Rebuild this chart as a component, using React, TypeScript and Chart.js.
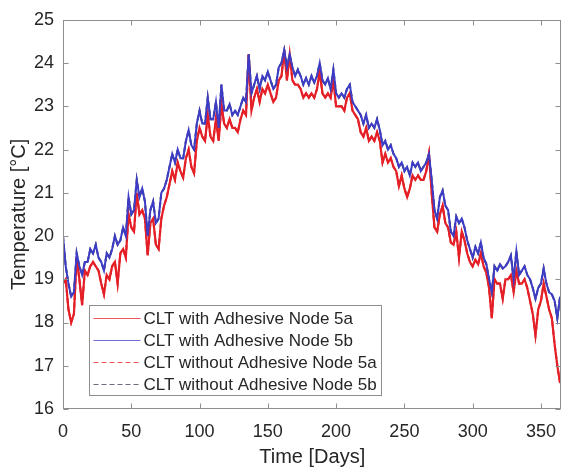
import React, { useEffect, useRef } from 'react';
import { Chart, registerables } from 'chart.js';

Chart.register(...registerables);

// Time in days (sampled every second day)
const days = [
  0, 2, 4, 6, 8, 10, 12, 14, 16, 18,
  20, 22, 24, 26, 28, 30, 32, 34, 36, 38,
  40, 42, 44, 46, 48, 50, 52, 54, 56, 58,
  60, 62, 64, 66, 68, 70, 72, 74, 76, 78,
  80, 82, 84, 86, 88, 90, 92, 94, 96, 98,
  100, 102, 104, 106, 108, 110, 112, 114, 116, 118,
  120, 122, 124, 126, 128, 130, 132, 134, 136, 138,
  140, 142, 144, 146, 148, 150, 152, 154, 156, 158,
  160, 162, 164, 166, 168, 170, 172, 174, 176, 178,
  180, 182, 184, 186, 188, 190, 192, 194, 196, 198,
  200, 202, 204, 206, 208, 210, 212, 214, 216, 218,
  220, 222, 224, 226, 228, 230, 232, 234, 236, 238,
  240, 242, 244, 246, 248, 250, 252, 254, 256, 258,
  260, 262, 264, 266, 268, 270, 272, 274, 276, 278,
  280, 282, 284, 286, 288, 290, 292, 294, 296, 298,
  300, 302, 304, 306, 308, 310, 312, 314, 316, 318,
  320, 322, 324, 326, 328, 330, 332, 334, 336, 338,
  340, 342, 344, 346, 348, 350, 352, 354, 356, 358,
  360, 362, 364,
];

// Node 5a (red)
const node5a = [
  18.9, 19.0, 18.3, 18.0, 18.2, 19.5, 19.0, 18.4, 19.2, 19.1,
  19.3, 19.4, 19.3, 19.2, 18.9, 18.65, 19.1, 19.0, 19.3, 19.4,
  18.9, 19.6, 19.7, 19.5, 20.5, 20.2, 20.1, 21.0, 20.5, 20.6,
  20.4, 19.55, 20.3, 20.4, 19.8, 19.7, 20.4, 20.7, 20.9, 21.2,
  21.5, 21.3, 21.7, 21.5, 21.35, 21.8, 22.0, 21.6, 21.45, 22.2,
  22.5, 22.3, 22.2, 22.8, 22.3, 22.2, 22.7, 22.2, 23.05, 22.6,
  22.5, 22.7, 22.5, 22.5, 22.4, 22.7, 22.9, 22.8, 24.2, 22.9,
  23.2, 23.4, 23.1, 23.4, 23.3, 23.5, 23.3, 23.1, 23.2, 23.6,
  23.7, 24.3, 23.6, 24.2, 23.6, 23.5, 23.5, 23.4, 23.2, 23.3,
  23.2, 23.3, 23.2, 23.4, 23.8, 23.3, 23.2, 23.3, 23.2, 23.6,
  23.0, 23.0, 23.0, 22.9, 23.2, 23.3, 22.9, 22.8, 22.7, 22.4,
  22.3, 22.5, 22.2, 22.3, 22.2, 22.4, 22.2, 21.7, 21.9, 21.7,
  21.8, 21.6, 21.5, 21.15, 21.4, 21.1, 20.9, 21.1, 21.4, 21.3,
  21.4, 21.3, 21.3, 21.5, 21.9, 21.0, 20.2, 20.1, 20.5, 20.7,
  20.3, 20.2, 19.85, 19.8, 20.1, 19.5, 20.1, 19.9, 19.6, 19.4,
  19.3, 19.45, 19.35, 19.6, 19.3, 19.15, 18.8, 18.1, 19.0, 18.9,
  18.9, 18.55, 19.0, 19.0, 19.1, 18.7, 19.2, 18.9, 18.9, 19.0,
  18.8, 18.5, 18.2, 17.7, 18.3, 18.5, 18.9, 18.6, 18.3, 18.1,
  17.5, 17.0, 16.6,
];

// Node 5b (blue)
const node5b = [
  20.0, 19.3, 18.9, 18.6, 18.7, 19.6, 19.3, 19.1, 19.4, 19.4,
  19.7, 19.6, 19.8, 19.5, 19.4, 19.2, 19.6, 19.5, 19.7, 20.0,
  19.8, 19.9, 20.2, 20.0, 20.9, 20.5, 20.6, 21.3, 20.9, 21.1,
  20.8, 20.0, 20.6, 20.8, 20.3, 20.4, 21.0, 21.1, 21.3, 21.6,
  21.9, 21.7, 22.0, 21.8, 21.8, 22.2, 22.45, 22.1, 22.0, 22.6,
  22.9, 22.6, 22.6, 23.2, 22.7, 22.7, 23.1, 22.5, 23.5, 22.9,
  22.9, 23.05, 22.8, 22.9, 22.8, 23.0, 23.2, 23.1, 24.2, 23.3,
  23.5, 23.7, 23.4, 23.7, 23.6, 23.8, 23.6, 23.4, 23.5, 23.9,
  24.0, 24.3, 23.9, 24.2, 23.9, 23.7, 23.85, 23.7, 23.5, 23.65,
  23.5, 23.7, 23.55, 23.7, 24.0, 23.6, 23.5, 23.65, 23.4, 23.85,
  23.3, 23.2, 23.3, 23.2, 23.4, 23.5, 23.1, 23.0, 22.9, 22.8,
  22.6, 22.8, 22.5, 22.6, 22.5, 22.7, 22.45, 22.1, 22.2, 22.0,
  22.1, 21.9, 21.8, 21.6, 21.7, 21.5, 21.6, 21.4, 21.7, 21.6,
  21.7, 21.5, 21.6, 21.7, 21.9, 21.3, 20.6, 20.4, 20.9, 21.05,
  20.7, 20.6, 20.1, 20.0, 20.45, 20.3, 20.4, 20.2, 19.9, 19.7,
  19.5, 19.75, 19.6, 19.85, 19.5, 19.35, 19.0, 18.7, 19.3, 19.2,
  19.35, 19.25, 19.3, 19.4, 19.55, 19.0, 19.65, 19.1, 19.2, 19.3,
  19.1, 19.0, 18.8, 18.55, 18.8, 18.9, 19.25, 18.9, 18.7, 18.65,
  18.5, 18.1, 18.6,
];

const xTicks = [0, 50, 100, 150, 200, 250, 300, 350];
const yTicks = [16, 17, 18, 19, 20, 21, 22, 23, 24, 25];

const seriesLabels = [
  'CLT with Adhesive Node 5a',
  'CLT with Adhesive Node 5b',
  'CLT without Adhesive Node 5a',
  'CLT without Adhesive Node 5b',
];

const RED = '#e41f26';
const BLUE = '#3c3cc6';
const DARK = '#3a3a55';
const FONT = '"Liberation Sans", Arial, Helvetica, sans-serif';
const TEXT = '#262626';
const AXIS = '#8e8e8e';

const boxPlugin = {
  id: 'matlabBox',
  afterDraw(chart: any) {
    const { ctx, chartArea } = chart;
    const { left, right, top, bottom } = chartArea;
    const xs = chart.scales.x;
    const ys = chart.scales.y;
    const L = Math.round(left) + 0.5;
    const R = Math.round(right) - 0.5;
    const T = Math.round(top) + 0.5;
    const B = Math.round(bottom) - 0.5;
    ctx.save();
    ctx.strokeStyle = AXIS;
    ctx.lineWidth = 1;
    ctx.strokeRect(L, T, R - L, B - T);
    const tl = 5;
    ctx.beginPath();
    xTicks.forEach((v) => {
      const px = Math.round(xs.getPixelForValue(v)) + 0.5;
      ctx.moveTo(px, B);
      ctx.lineTo(px, B - tl);
      ctx.moveTo(px, T);
      ctx.lineTo(px, T + tl);
    });
    yTicks.forEach((v) => {
      const py = Math.round(ys.getPixelForValue(v)) + 0.5;
      ctx.moveTo(L, py);
      ctx.lineTo(L + tl, py);
      ctx.moveTo(R, py);
      ctx.lineTo(R - tl, py);
    });
    ctx.stroke();

    // legend box
    const lx = Math.round(left) + 26.5;
    const ly = Math.round(bottom) - 103.5;
    const lw = 292;
    const lh = 90;
    ctx.fillStyle = '#ffffff';
    ctx.fillRect(lx, ly, lw, lh);
    ctx.strokeStyle = AXIS;
    ctx.strokeRect(lx, ly, lw, lh);
    const styles = [
      { c: RED, d: [] as number[] },
      { c: BLUE, d: [] as number[] },
      { c: RED, d: [5, 3] },
      { c: DARK, d: [5, 3] },
    ];
    ctx.font = `17px ${FONT}`;
    ctx.textBaseline = 'middle';
    ctx.textAlign = 'left';
    seriesLabels.forEach((lab, i) => {
      const yy = ly + 12.5 + i * 22;
      ctx.beginPath();
      ctx.setLineDash(styles[i].d);
      ctx.strokeStyle = styles[i].c;
      ctx.globalAlpha = 0.75;
      ctx.lineWidth = 1;
      ctx.moveTo(lx + 4, Math.round(yy) + 0.5);
      ctx.lineTo(lx + 51, Math.round(yy) + 0.5);
      ctx.stroke();
      ctx.globalAlpha = 1;
      ctx.setLineDash([]);
      ctx.fillStyle = TEXT;
      ctx.fillText(lab, lx + 54, yy + 1);
    });
    ctx.restore();
  },
};

export default function App() {
  const ref = useRef<HTMLCanvasElement>(null);
  useEffect(() => {
    document.body.style.margin = '0';
    const canvas = ref.current;
    if (!canvas) return;
    const pts = (vals: number[]) => days.map((d, i) => ({ x: d, y: vals[i] }));
    const chart = new Chart(canvas, {
      type: 'line',
      data: {
        datasets: [
          { label: seriesLabels[0], data: pts(node5a), borderColor: RED, borderWidth: 2.2, pointRadius: 0, order: 1 },
          { label: seriesLabels[1], data: pts(node5b), borderColor: BLUE, borderWidth: 2, pointRadius: 0, order: 0 },
          { label: seriesLabels[2], data: pts(node5a), borderColor: RED, borderWidth: 2, borderDash: [5, 3], pointRadius: 0, order: 2 },
          { label: seriesLabels[3], data: pts(node5b), borderColor: DARK, borderWidth: 2, borderDash: [5, 3], pointRadius: 0, order: 3 },
        ],
      } as any,
      options: {
        responsive: false,
        animation: false,
        layout: { padding: { top: 15, right: 1, left: 0, bottom: 0 } },
        plugins: { legend: { display: false }, tooltip: { enabled: false } },
        scales: {
          x: {
            type: 'linear',
            min: 0,
            max: 365,
            afterBuildTicks: (s: any) => { s.ticks = xTicks.map((v) => ({ value: v })); },
            afterFit: (s: any) => { s.height = 60; },
            grid: { display: false, drawTicks: false },
            border: { display: false },
            ticks: { color: TEXT, font: { size: 18, family: FONT }, padding: 12, maxRotation: 0, autoSkip: false },
            title: { display: true, text: 'Time [Days]', color: TEXT, font: { size: 20, family: FONT }, padding: { top: 2, bottom: 0 } },
          },
          y: {
            type: 'linear',
            min: 16,
            max: 25,
            afterBuildTicks: (s: any) => { s.ticks = yTicks.map((v) => ({ value: v })); },
            afterFit: (s: any) => { s.width = 63; },
            grid: { display: false, drawTicks: false },
            border: { display: false },
            ticks: { color: TEXT, font: { size: 18, family: FONT }, padding: 9, autoSkip: false },
            title: { display: true, text: 'Temperature [°C]', color: TEXT, font: { size: 20, family: FONT }, padding: { top: 7, bottom: 0 } },
          },
        },
      } as any,
      plugins: [boxPlugin],
    });
    return () => chart.destroy();
  }, []);
  return <canvas ref={ref} width={568} height={469} style={{ display: 'block' }} />;
}
